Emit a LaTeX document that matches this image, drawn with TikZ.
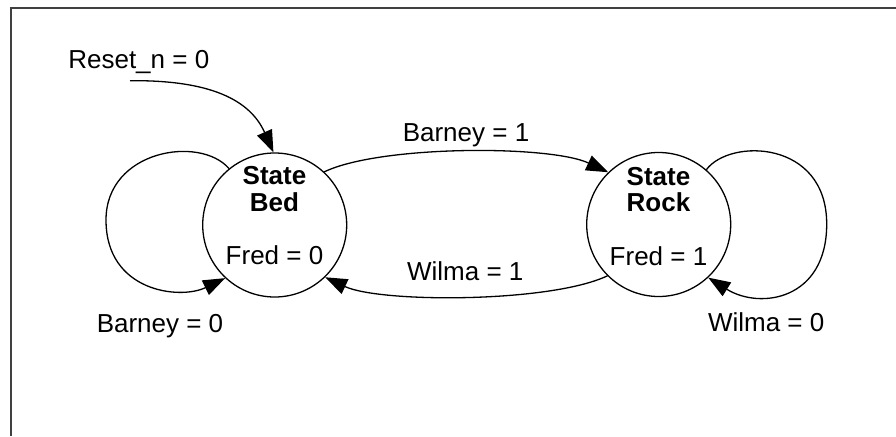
\documentclass[tikz,border=0pt]{standalone}
\usepackage{fontspec}
\setmainfont{Liberation Sans}
\usetikzlibrary{arrows.meta}
\tikzset{
  state/.style={circle, draw, line width=1.3pt, minimum size=144pt, inner sep=0pt},
  lbl/.style={anchor=base, inner sep=0pt, font=\fontsize{26}{27}\selectfont},
  blbl/.style={lbl, font=\fontsize{26}{27}\selectfont\bfseries},
  edge/.style={line width=1.3pt, -{Triangle[length=22pt, width=16pt]}},
  frame/.style={line width=2pt, draw=black!75}
}
\begin{document}
\begin{tikzpicture}[x=1pt, y=-1pt]
\useasboundingbox (0,0) rectangle (896,436);
\draw[frame] (11,436) -- (11,8) -- (896,8);
% states
\node[state] (bed) at (274.7,225) {};
\node[state] (rock) at (658.7,224.5) {};
\node[blbl] (bed1) at (274.5,184.5) {State};
\node[blbl] (bed2) at (274.5,211.5) {Bed};
\node[lbl] (bedo) at (274.5,264.7) {Fred = 0};
\node[blbl] (rock1) at (658.5,185) {State};
\node[blbl] (rock2) at (658.5,211.7) {Rock};
\node[lbl] (rocko) at (658.5,265) {Fred = 1};
% labels
\node[lbl] (rst) at (138.8,68.3) {Reset\_n = 0};
\node[lbl] (b1) at (466,141.7) {Barney = 1};
\node[lbl] (w1) at (465.3,280) {Wilma = 1};
\node[lbl] (b0) at (160,332.3) {Barney = 0};
\node[lbl] (w0) at (766.2,331.7) {Wilma = 0};
\coordinate (rststart) at (130,80.7);
% edges
\draw[edge] (rststart) .. controls (200,80) and (248,95) .. (bed.91);
\draw[edge] (bed.47) .. controls (380,145) and (550,145) .. (rock.134);
\draw[edge] (rock.-135) .. controls (550,303) and (380,303) .. (bed.-46);
\draw[edge] (bed.129) .. controls (200,135) and (106,150) .. (106,220)
  .. controls (106,292) and (180,300) .. (bed.-133);
\draw[edge] (rock.49) .. controls (730,138) and (826.7,140) .. (826.7,224)
  .. controls (826.7,300) and (760,310) .. (rock.-47);
\end{tikzpicture}
\end{document}
